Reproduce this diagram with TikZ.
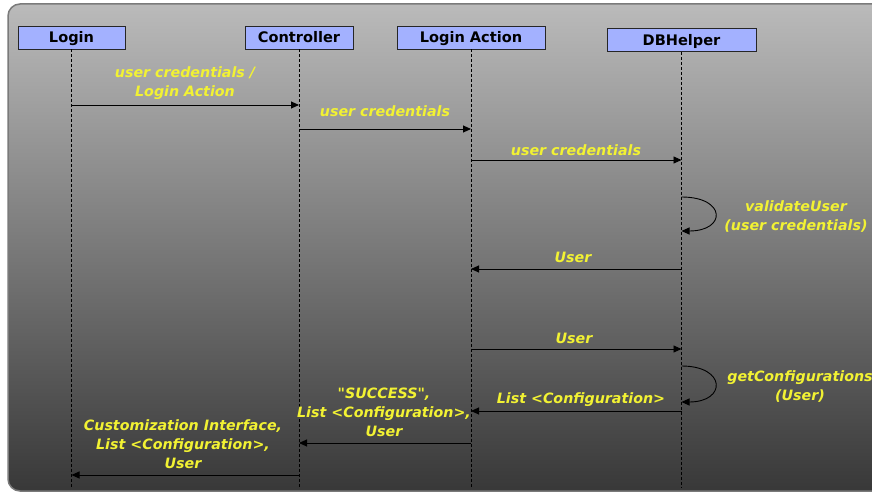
\documentclass[tikz,border=0pt]{standalone}
\usepackage{fontspec}
\setmainfont{DejaVu Sans}
\usetikzlibrary{arrows.meta,calc}
\definecolor{objfill}{HTML}{A3B1FF}
\definecolor{msgtext}{HTML}{F2F233}
\definecolor{panelborder}{HTML}{7A7A7A}
\tikzset{
  objbox/.style={draw=black!85, fill=objfill, line width=0.9bp, minimum height=23bp,
    inner sep=0pt, text height=10.6bp, text depth=0pt,
    font=\fontsize{14.6}{16}\selectfont\bfseries},
  lifeline/.style={draw=black, line width=0.8bp, dash pattern=on 3bp off 2bp},
  msg/.style={draw=black, line width=0.9bp, -{Triangle[length=8bp,width=7bp]}},
  msglabel/.style={text=msgtext, align=center, inner sep=0pt,
    font=\fontsize{14.3}{19}\selectfont\bfseries\itshape}
}
\begin{document}
\begin{tikzpicture}[x=1bp,y=-1bp]
  \useasboundingbox (0,0) rectangle (872,495);
  % shaded panel
  \path[draw=panelborder, line width=1.5bp, rounded corners=12bp,
        top color=black!27, bottom color=black!78]
    (8,4) rectangle (890,491);

  % participants
  \node[objbox, minimum width=107bp] (login) at (71.5,37.5) {Login};
  \node[objbox, minimum width=108bp] (ctrl) at (299,37.5) {Controller};
  \node[objbox, minimum width=148bp] (act) at (471,37.5) {Login Action};
  \node[objbox, minimum width=149bp] (db) at (681.5,40) {DBHelper};

  % lifelines
  \coordinate (loginEnd) at (login.south |- 0,488);
  \coordinate (ctrlEnd) at (ctrl.south |- 0,488);
  \coordinate (actEnd) at (act.south |- 0,488);
  \coordinate (dbEnd) at (db.south |- 0,488);
  \draw[lifeline] (login.south) -- (loginEnd);
  \draw[lifeline] (ctrl.south) -- (ctrlEnd);
  \draw[lifeline] (act.south) -- (actEnd);
  \draw[lifeline] (db.south) -- (dbEnd);

  % message anchor points on the lifelines
  \coordinate (m1a) at (login.south |- 0,105);  \coordinate (m1b) at (ctrl.south |- 0,105);
  \coordinate (m2a) at (ctrl.south |- 0,129);   \coordinate (m2b) at (act.south |- 0,129);
  \coordinate (m3a) at (act.south |- 0,160);    \coordinate (m3b) at (db.south |- 0,160);
  \coordinate (s1a) at (db.south |- 0,197);     \coordinate (s1b) at (db.south |- 0,231);
  \coordinate (m5a) at (db.south |- 0,269);     \coordinate (m5b) at (act.south |- 0,269);
  \coordinate (m6a) at (act.south |- 0,349);    \coordinate (m6b) at (db.south |- 0,349);
  \coordinate (s2a) at (db.south |- 0,366);     \coordinate (s2b) at (db.south |- 0,402);
  \coordinate (m8a) at (db.south |- 0,411);     \coordinate (m8b) at (act.south |- 0,411);
  \coordinate (m9a) at (act.south |- 0,443);    \coordinate (m9b) at (ctrl.south |- 0,443);
  \coordinate (m10a) at (ctrl.south |- 0,475);  \coordinate (m10b) at (login.south |- 0,475);

  % messages
  \draw[msg] (m1a) -- (m1b);
  \draw[msg] (m2a) -- (m2b);
  \draw[msg] (m3a) -- (m3b);
  \draw[msg] (s1a) .. controls ($(s1a)+(45,0)$) and ($(s1b)+(45,0)$) .. (s1b);
  \draw[msg] (m5a) -- (m5b);
  \draw[msg] (m6a) -- (m6b);
  \draw[msg] (s2a) .. controls ($(s2a)+(45,0)$) and ($(s2b)+(45,0)$) .. (s2b);
  \draw[msg] (m8a) -- (m8b);
  \draw[msg] (m9a) -- (m9b);
  \draw[msg] (m10a) -- (m10b);

  % message labels
  \node[msglabel] (l1) at (185,83.5) {user credentials /\\Login Action};
  \node[msglabel] (l2) at (385,111) {user credentials};
  \node[msglabel] (l3) at (576,150) {user credentials};
  \node[msglabel] (l4) at (796,216.5) {validateUser\\(user credentials)};
  \node[msglabel] (l5) at (573,257) {User};
  \node[msglabel] (l6) at (574,338) {User};
  \node[msglabel] (l7) at (800,386.5) {getConfigurations\\(User)};
  \node[msglabel] (l8) at (581,400) {List <Configuration>};
  \node[msglabel] (l9) at (384,412) {\textquotedbl SUCCESS\textquotedbl,\\List <Configuration>,\\User};
  \node[msglabel] (l10) at (183,444.5) {Customization Interface,\\List <Configuration>,\\User};
\end{tikzpicture}
\end{document}
